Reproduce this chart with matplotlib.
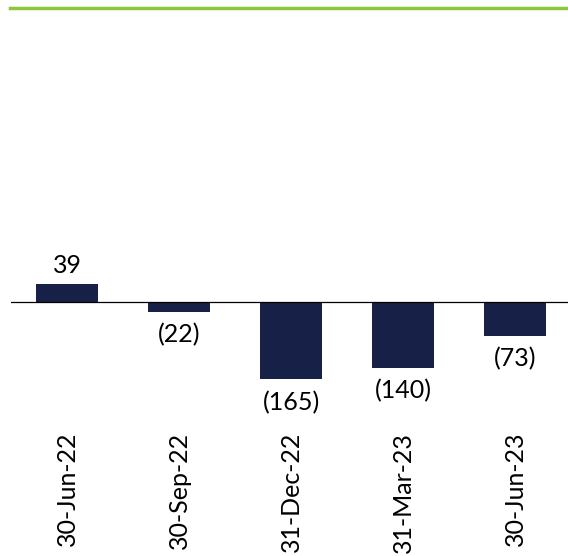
import matplotlib
matplotlib.use("Agg")
from matplotlib import pyplot as plt
from matplotlib.lines import Line2D

# quarter-end dates and values
dates = ["30-Jun-22", "30-Sep-22", "31-Dec-22", "31-Mar-23", "30-Jun-23"]
values = [39, -22, -165, -140, -73]

BAR_COLOR = "#172046"
GREEN = "#8dc63f"

plt.rcParams["font.family"] = ["Lato", "DejaVu Sans"]


def fmt(v):
    return "({})".format(abs(v)) if v < 0 else str(v)


fig = plt.figure(figsize=(5.68, 5.56), dpi=100)
W, H = 568, 556
# axes placed in pixel terms
left, right, top, bottom = 11, 571, 20, 425
ax = fig.add_axes([left / W, 1 - bottom / H, (right - left) / W, (bottom - top) / H])

x = range(len(dates))
ax.bar(x, values, width=0.55, color=BAR_COLOR)
ax.axhline(0, color="black", linewidth=0.9)

# value labels
for i, v in enumerate(values):
    if v >= 0:
        ax.annotate(fmt(v), (i, v), xytext=(0, 5), textcoords="offset points",
                    ha="center", va="bottom", fontsize=18)
    else:
        ax.annotate(fmt(v), (i, v), xytext=(0, -8), textcoords="offset points",
                    ha="center", va="top", fontsize=18)

ax.set_xlim(-0.5, len(dates) - 0.5)
ax.set_ylim(-262, 600)
ax.set_xticks(list(x))
ax.set_xticklabels(dates, rotation=90, fontsize=18, va="top")
ax.tick_params(axis="x", length=0, pad=5)
ax.set_yticks([])
for s in ax.spines.values():
    s.set_visible(False)

# green rule at the top
fig.add_artist(Line2D([10 / W, 1], [1 - 8 / H, 1 - 8 / H], color=GREEN,
                      linewidth=2.5, transform=fig.transFigure))

fig.savefig("out.png", dpi=100)
